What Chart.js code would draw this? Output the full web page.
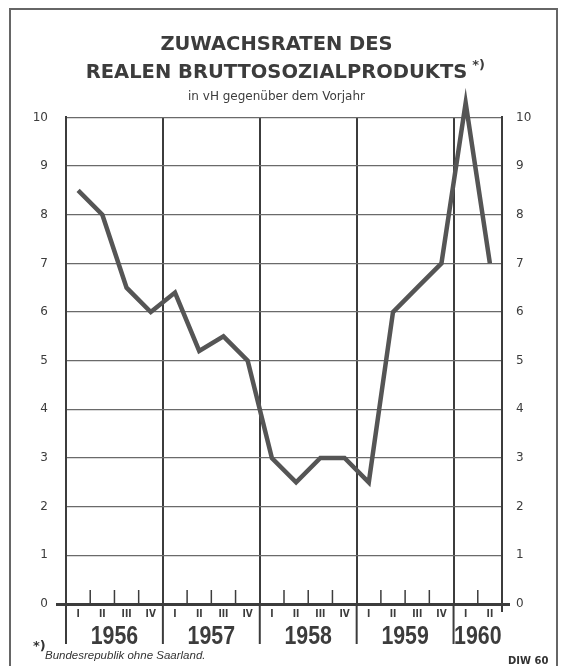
<!DOCTYPE html>
<html>
<head>
<meta charset="utf-8">
<script src="https://cdn.jsdelivr.net/npm/chart.js@4.4.0/dist/chart.umd.min.js"></script>
<style>
  html, body { margin: 0; padding: 0; background: #fff; }
  #wrap { position: relative; width: 563px; height: 666px; overflow: hidden; }
  #frame { position: absolute; left: 9px; top: 8px; width: 545px; height: 700px;
           border: 2px solid #666; border-bottom: none; pointer-events: none; }
  .note { position: absolute; color: #333; white-space: nowrap; }
</style>
</head>
<body>
<div id="wrap">
  <canvas id="myChart" width="563" height="666"></canvas>
  <div id="frame"></div>
  <div class="note" style="left:33px; top:638px; font:bold 13px 'DejaVu Sans';">*)</div>
  <div class="note" style="left:45px; top:649px; font:italic 11.5px 'Liberation Sans';">Bundesrepublik ohne Saarland.</div>
  <div class="note" style="left:508px; top:655px; font:bold 10px 'DejaVu Sans';">DIW 60</div>
</div>
<script>
"use strict";

// quarters 1956 I .. 1960 II
const quarters = ['I', 'II', 'III', 'IV', 'I', 'II', 'III', 'IV', 'I', 'II', 'III', 'IV',
    'I', 'II', 'III', 'IV', 'I', 'II'];
const years = ['1956', '1957', '1958', '1959', '1960'];
const quartersPerYear = [4, 4, 4, 4, 2];
// Zuwachsrate in vH gegenüber dem Vorjahr
const growth = [8.5, 8.0, 6.5, 6.0, 6.4, 5.2, 5.5, 5.0, 3.0, 2.5, 3.0, 3.0,
    2.5, 6.0, 6.5, 7.0, 10.3, 7.0];
const yTicks = [0, 1, 2, 3, 4, 5, 6, 7, 8, 9, 10];
const titleLines = ['ZUWACHSRATEN DES', 'REALEN BRUTTOSOZIALPRODUKTS'];
const subtitle = 'in vH gegenüber dem Vorjahr';

const ink = '#3c3c3c';
const gridInk = '#6a6a6a';
const titleFont = { family: 'DejaVu Sans', size: 19.5, weight: 'bold', lineHeight: 28 / 19.5 };

// year separators below the axis, quarter ticks, year labels, footnote mark in title
const yearMarks = {
    id: 'yearMarks',
    afterDraw(chart) {
        const ctx = chart.ctx;
        const x = chart.scales.x;
        const base = chart.scales.y.getPixelForValue(0);
        const n = quarters.length;
        ctx.save();
        ctx.strokeStyle = ink;
        ctx.fillStyle = ink;
        let start = 0;
        years.forEach(function (year, k) {
            const count = quartersPerYear[k];
            const x0 = x.getPixelForDecimal(start / n);
            ctx.lineWidth = 2;
            ctx.beginPath();
            ctx.moveTo(x0, base);
            ctx.lineTo(x0, base + 40);
            ctx.stroke();
            ctx.lineWidth = 1.5;
            for (let q = 1; q < count; q++) {
                const xq = x.getPixelForDecimal((start + q) / n);
                ctx.beginPath();
                ctx.moveTo(xq, base - 14);
                ctx.lineTo(xq, base);
                ctx.stroke();
            }
            // narrow year figures
            ctx.save();
            ctx.translate(x.getPixelForDecimal((start + count / 2) / n), base + 33);
            ctx.scale(0.82, 1);
            ctx.font = "bold 26px 'Liberation Sans', sans-serif";
            ctx.textAlign = 'center';
            ctx.textBaseline = 'middle';
            ctx.fillText(year, 0, 0);
            ctx.restore();
            start += count;
        });
        const xe = x.getPixelForDecimal(1);
        ctx.lineWidth = 2;
        ctx.beginPath();
        ctx.moveTo(xe, base);
        ctx.lineTo(xe, base + 8);
        ctx.stroke();

        const tb = chart.titleBlock;
        ctx.font = 'bold 19.5px DejaVu Sans';
        const w = ctx.measureText(titleLines[1]).width;
        const cx = (tb.left + tb.right) / 2;
        ctx.font = 'bold 13px DejaVu Sans';
        ctx.textAlign = 'left';
        ctx.textBaseline = 'middle';
        ctx.fillText('*)', cx + w / 2 + 5, tb.top + 31 + 28 * 1.5 - 7);
        ctx.restore();
    }
};

var salesChart = new Chart(document.getElementById('myChart'), {
    type: 'line',
    data: {
        labels: quarters,
        datasets: [{
            data: growth,
            borderColor: '#555',
            borderWidth: 4.5,
            borderJoinStyle: 'miter',
            borderCapStyle: 'butt',
            pointRadius: 0,
            tension: 0,
            clip: false
        }]
    },
    options: {
        responsive: false,
        animation: false,
        layout: { padding: { left: 0, right: 10, top: 0, bottom: 0 } },
        plugins: {
            legend: { display: false },
            tooltip: { enabled: false },
            title: {
                display: true,
                text: titleLines,
                color: ink,
                font: titleFont,
                padding: { top: 31, bottom: 3 }
            },
            subtitle: {
                display: true,
                text: subtitle,
                color: ink,
                font: { family: 'DejaVu Sans', size: 12, lineHeight: 1.2 },
                padding: { top: 0, bottom: 13 }
            }
        },
        scales: {
            x: {
                offset: true,
                grid: {
                    offset: true,
                    drawTicks: false,
                    color: (c) => (c.index > 0 && c.index % 4 === 0) ? ink : 'rgba(0,0,0,0)',
                    lineWidth: 2
                },
                border: { display: true, color: ink, width: 3 },
                ticks: {
                    color: ink,
                    padding: 4,
                    maxRotation: 0,
                    autoSkip: false,
                    font: { family: "'DejaVu Sans Condensed'", size: 10, weight: 'bold' }
                },
                afterFit: (s) => { s.height = 62; }
            },
            y: {
                min: 0,
                max: 10,
                afterBuildTicks: (s) => { s.ticks = yTicks.map(v => ({ value: v })); },
                grid: {
                    color: (c) => c.tick.value === 0 ? ink : gridInk,
                    lineWidth: (c) => c.tick.value === 0 ? 3 : 1.3,
                    tickLength: 10,
                    tickColor: (c) => c.tick.value === 0 ? ink : 'rgba(0,0,0,0)',
                    tickWidth: 3
                },
                border: { display: true, color: ink, width: 2 },
                ticks: { color: ink, padding: 8, font: { family: 'DejaVu Sans', size: 12 } },
                afterFit: (s) => { s.width = 66; }
            },
            y2: {
                position: 'right',
                min: 0,
                max: 10,
                afterBuildTicks: (s) => { s.ticks = yTicks.map(v => ({ value: v })); },
                grid: {
                    drawOnChartArea: false,
                    tickLength: 8,
                    tickColor: (c) => c.tick.value === 0 ? ink : 'rgba(0,0,0,0)',
                    tickWidth: 3
                },
                border: { display: true, color: ink, width: 2 },
                ticks: { color: ink, padding: 6, font: { family: 'DejaVu Sans', size: 12 } },
                afterFit: (s) => { s.width = 51; }
            }
        }
    },
    plugins: [yearMarks]
});
</script>
</body>
</html>
